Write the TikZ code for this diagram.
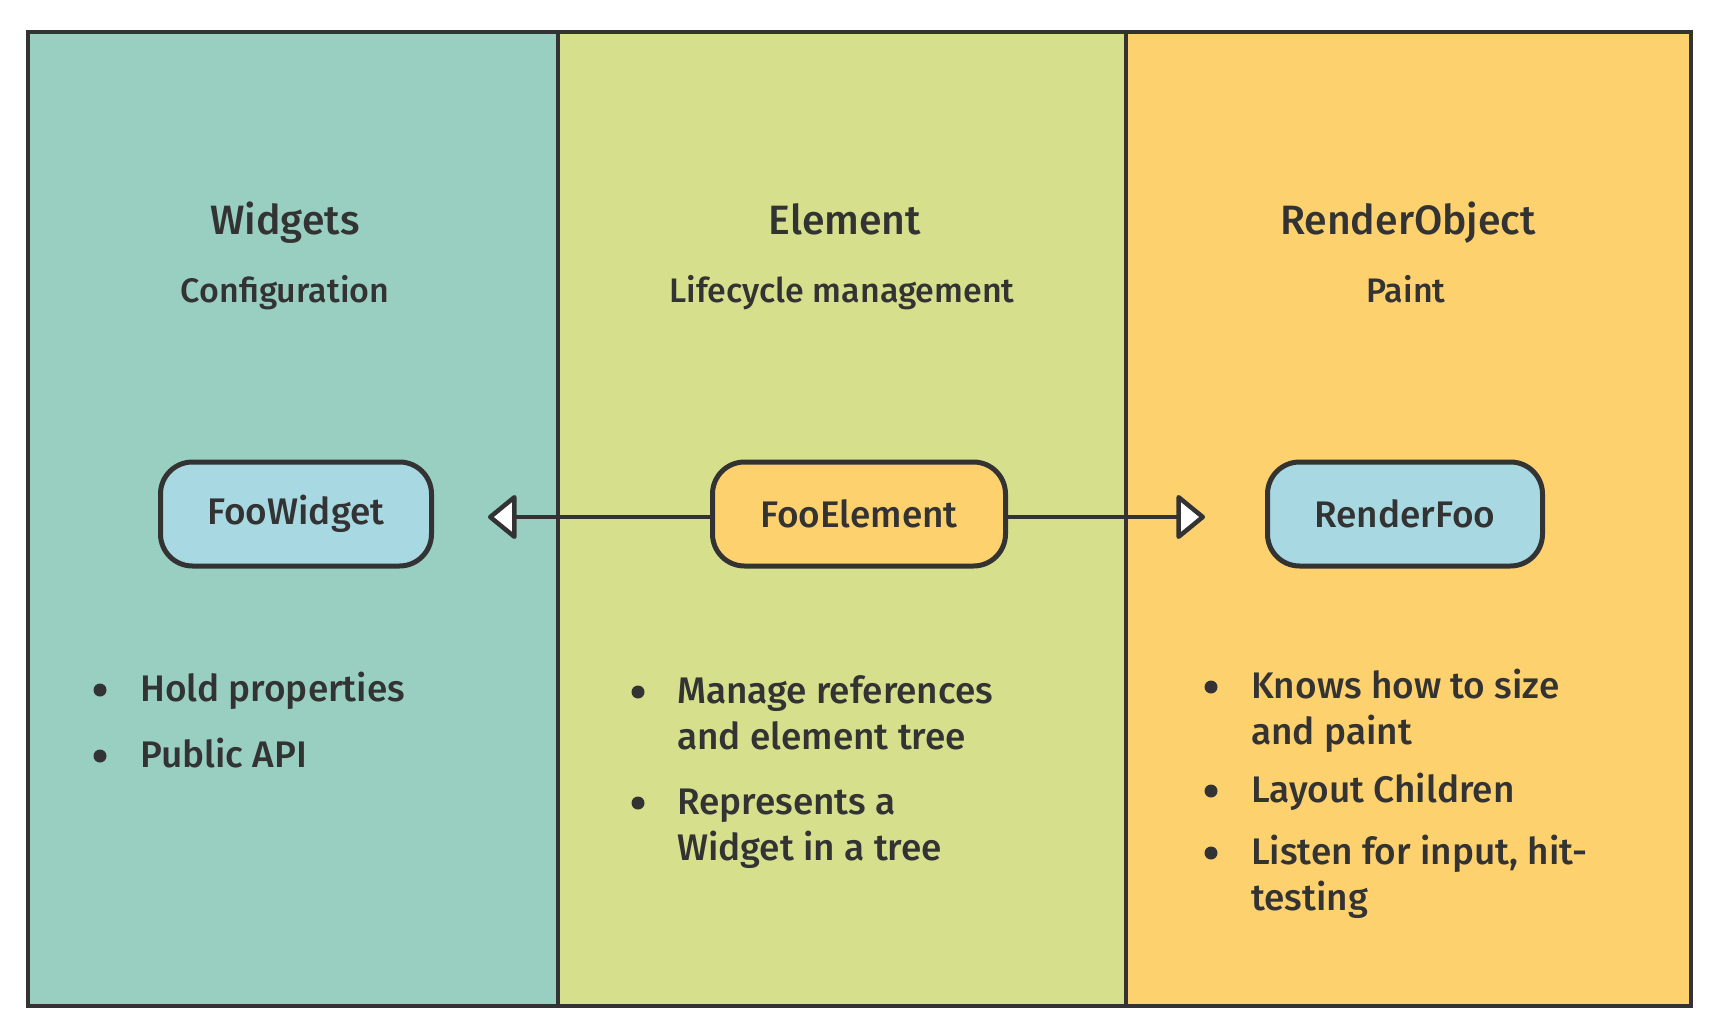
\documentclass[tikz,border=0pt]{standalone}
\usepackage{fontspec}
\setmainfont{Fira Sans}[UprightFont = * Medium]
\usetikzlibrary{arrows.meta}
\definecolor{ink}{HTML}{333333}
\definecolor{teal}{HTML}{98CFC0}
\definecolor{lime}{HTML}{D6E08C}
\definecolor{sun}{HTML}{FDD26E}
\definecolor{sky}{HTML}{A8D8E2}
\tikzset{
  title/.style={text=ink, anchor=base, font=\fontsize{41}{46}\selectfont, inner sep=0},
  subtitle/.style={text=ink, anchor=base, font=\fontsize{34}{40}\selectfont, inner sep=0},
  boxnode/.style={draw=ink, line width=5pt, rounded corners=32pt, minimum height=104pt, text=ink, font=\fontsize{37}{42}\selectfont, inner sep=0},
  itemtext/.style={text=ink, anchor=base west, font=\fontsize{37}{42}\selectfont, inner sep=0},
  dot/.style={circle, fill=ink, minimum size=13pt, inner sep=0},
  conn/.style={draw=ink, line width=4.5pt, -{Triangle[open, fill=white, length=30pt, width=48pt, line join=round]}},
}
\begin{document}
\begin{tikzpicture}[x=1pt, y=-1pt]
\useasboundingbox[fill=white] (0,0) rectangle (1713,1019);
% columns
\fill[teal] (28,32) rectangle (558,1006);
\fill[lime] (558,32) rectangle (1126,1006);
\fill[sun] (1126,32) rectangle (1691,1006);
\draw[ink, line width=4.5pt] (28,32) rectangle (1691,1006);
\draw[ink, line width=3.5pt] (558,32) -- (558,1006);
\draw[ink, line width=3.5pt] (1126,32) -- (1126,1006);
% titles
\node[title] (t1) at (285,235) {Widgets};
\node[subtitle] (s1) at (285,302) {Configuration};
\node[title] (t2) at (845,235) {Element};
\node[subtitle] (s2) at (842,302) {Lifecycle management};
\node[title] (t3) at (1408,235) {RenderObject};
\node[subtitle] (s3) at (1406,302) {Paint};
% boxes
\node[boxnode, fill=sky, minimum width=271pt] (w) at (296,514) {FooWidget};
\node[boxnode, fill=sun, minimum width=293pt] (e) at (859,514) {FooElement};
\node[boxnode, fill=sky, minimum width=275pt] (r) at (1405,514) {RenderFoo};
\coordinate (lt) at (488,517);
\coordinate (rt) at (1205,517);
\draw[conn] (e.west |- lt) -- (lt);
\draw[conn] (e.east |- rt) -- (rt);
% left bullets
\node[dot] (d1) at (100,690) {};
\node[itemtext] (l1) at (140,701) {Hold properties};
\node[dot] (d2) at (100,756) {};
\node[itemtext] (l2) at (140,767) {Public API};
% middle bullets
\node[dot] (d3) at (638,692) {};
\node[itemtext] (m1) at (677,703) {Manage references};
\node[itemtext] (m2) at (677,749) {and element tree};
\node[dot] (d4) at (638,803) {};
\node[itemtext] (m3) at (677,814) {Represents a};
\node[itemtext] (m4) at (677,860) {Widget in a tree};
% right bullets
\node[dot] (d5) at (1211,687) {};
\node[itemtext] (r1) at (1251,698) {Knows how to size};
\node[itemtext] (r2) at (1251,744) {and paint};
\node[dot] (d6) at (1211,791) {};
\node[itemtext] (r3) at (1251,802) {Layout Children};
\node[dot] (d7) at (1211,853) {};
\node[itemtext] (r4) at (1251,864) {Listen for input, hit-};
\node[itemtext] (r5) at (1251,910) {testing};
\end{tikzpicture}
\end{document}
